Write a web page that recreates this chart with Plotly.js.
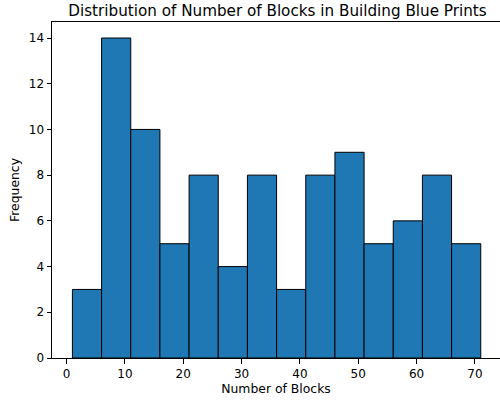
<!DOCTYPE html>
<html>
<head>
<meta charset="utf-8">
<script src="https://cdn.plot.ly/plotly-3.0.1.min.js"></script>
<style>html,body{margin:0;padding:0;background:#fff;}#chart{width:500px;height:401px;}</style>
</head>
<body>
<div id="chart"></div>
<script>
// Histogram bins (left edges) and counts
var binStarts = [1, 6, 11, 16, 21, 26, 31, 36, 41, 46, 51, 56, 61, 66];
var binWidth = 5;
var counts = [3, 14, 10, 5, 8, 4, 8, 3, 8, 9, 5, 6, 8, 5];
var xTicks = [0, 10, 20, 30, 40, 50, 60, 70];
var yTicks = [0, 2, 4, 6, 8, 10, 12, 14];

var centers = binStarts.map(function(s){ return s + binWidth / 2; });

var font = "DejaVu Sans, sans-serif";
var trace = {
  type: 'bar',
  x: centers,
  y: counts,
  width: binWidth,
  marker: {color: '#1f77b4', line: {color: '#000000', width: 1}},
  hoverinfo: 'x+y'
};

var layout = {
  width: 500, height: 401,
  margin: {l: 52.4, r: 0, t: 22.3, b: 42.7},
  paper_bgcolor: '#ffffff', plot_bgcolor: '#ffffff',
  showlegend: false,
  bargap: 0,
  font: {family: font, color: '#000000', size: 12},
  title: {text: 'Distribution of Number of Blocks in Building Blue Prints',
          font: {family: font, size: 15.2, color: '#000'},
          x: 0.555, xanchor: 'center', y: 0.974, yanchor: 'middle'},
  xaxis: {
    range: [-2.5, 74.3],
    tickvals: xTicks, ticktext: xTicks.map(String),
    ticks: 'outside', ticklen: 4.5, tickwidth: 1, tickcolor: '#000',
    showgrid: false, zeroline: false,
    showline: true, linecolor: '#000', linewidth: 1, mirror: true,
    tickfont: {family: font, size: 12, color: '#000'},
    title: {text: 'Number of Blocks', font: {family: font, size: 12.4, color: '#000'}, standoff: 3}
  },
  yaxis: {
    range: [0, 14.7],
    tickvals: yTicks, ticktext: yTicks.map(String),
    ticks: 'outside', ticklen: 4.5, tickwidth: 1, tickcolor: '#000',
    showgrid: false, zeroline: false,
    showline: true, linecolor: '#000', linewidth: 1, mirror: false,
    tickfont: {family: font, size: 12, color: '#000'},
    title: {text: 'Frequency', font: {family: font, size: 12.4, color: '#000'}, standoff: 6}
  }
};

Plotly.newPlot('chart', [trace], layout, {displayModeBar: false, staticPlot: true});
</script>
</body>
</html>
